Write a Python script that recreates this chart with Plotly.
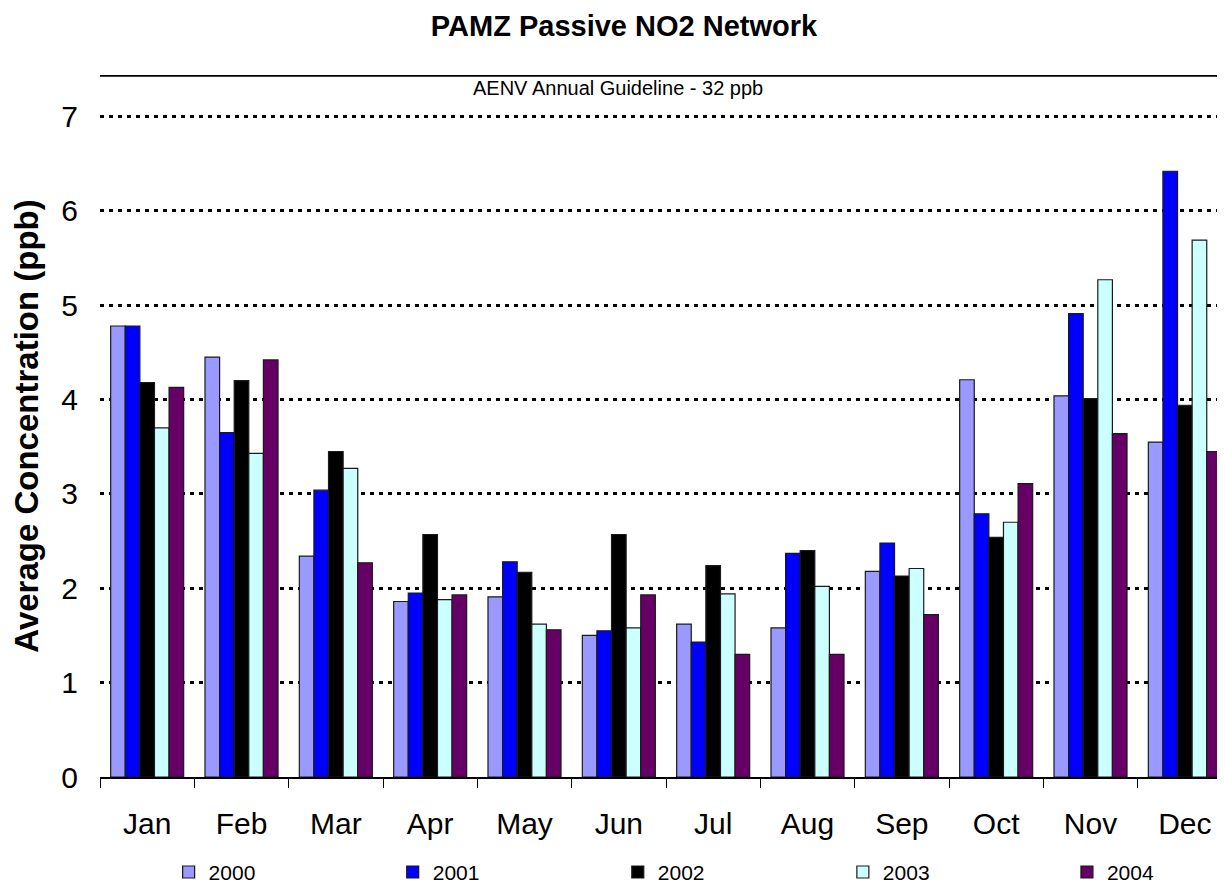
import plotly.graph_objects as go

months = ["Jan", "Feb", "Mar", "Apr", "May", "Jun", "Jul", "Aug", "Sep", "Oct", "Nov", "Dec"]
years = ["2000", "2001", "2002", "2003", "2004"]

v2000 = [4.78, 4.45, 2.34, 1.86, 1.91, 1.50, 1.62, 1.58, 2.18, 4.21, 4.04, 3.55]
v2001 = [4.78, 3.65, 3.04, 1.95, 2.28, 1.55, 1.43, 2.37, 2.48, 2.79, 4.91, 6.42]
v2002 = [4.18, 4.20, 3.45, 2.57, 2.17, 2.57, 2.24, 2.40, 2.13, 2.54, 4.01, 3.94]
v2003 = [3.70, 3.43, 3.27, 1.88, 1.62, 1.58, 1.94, 2.02, 2.21, 2.70, 5.27, 5.69]
v2004 = [4.13, 4.42, 2.27, 1.93, 1.56, 1.93, 1.30, 1.30, 1.72, 3.11, 3.64, 3.45]
series = [v2000, v2001, v2002, v2003, v2004]
colors = ["#9999FF", "#0000FF", "#000000", "#CCFFFF", "#660066"]

guideline_label = "AENV Annual Guideline - 32 ppb"
y_top = 7.44
y_ticks = [0, 1, 2, 3, 4, 5, 6, 7]

FONT = "Liberation Sans, Arial, sans-serif"

# the page body adds an 8px offset; figure sized to fit the 1225x888 window
OFF = 8
W, H = 1225 - OFF, 888 - OFF
ML = 100.4 - OFF
MT = 75 - OFF
MB = H - (776.7 - OFF)
PW = W - ML
PH = H - MT - MB

legend_ids = ["legend", "legend2", "legend3", "legend4", "legend5"]
legend_text_px = [210, 434, 659, 884, 1108]   # screen x where legend text starts

fig = go.Figure()
for name, vals, col, lid in zip(years, series, colors, legend_ids):
    fig.add_trace(go.Bar(
        x=months, y=vals, name=name, legend=lid,
        marker=dict(color=col, line=dict(color="#1a1a1a", width=1.2)),
    ))

layout = dict(
    width=W, height=H,
    margin=dict(l=ML, r=0, t=MT, b=MB, pad=0, autoexpand=False),
    paper_bgcolor="white", plot_bgcolor="white",
    barmode="group", bargap=0.226, bargroupgap=0,
    font=dict(family=FONT, color="black"),
    title=dict(text="<b>PAMZ Passive NO2 Network</b>", x=(624 - OFF) / W, xanchor="center",
               y=1 - (26 - OFF) / H, yanchor="middle",
               font=dict(size=29, family=FONT, color="black")),
    xaxis=dict(
        range=[-0.5, -0.5 + PW / 94.3], automargin=False,
        showline=True, linecolor="black", linewidth=1.5,
        ticks="outside", tickson="boundaries", ticklen=9, tickcolor="black", tickwidth=1,
        tickfont=dict(size=30, family=FONT, color="black"),
        ticklabelstandoff=19,
        showgrid=False, zeroline=False,
    ),
    yaxis=dict(
        range=[0, y_top], tickvals=y_ticks, automargin=False,
        showline=False, ticks="", zeroline=False,
        showgrid=True, gridcolor="black", gridwidth=2.5, griddash="4px,5px",
        tickfont=dict(size=30, family=FONT, color="black"),
        ticklabelstandoff=21,
        title=dict(text="<b>Average Concentration (ppb)</b>", standoff=12,
                   font=dict(size=33, family=FONT, color="black")),
    ),
    showlegend=True,
)
for lid, tx in zip(legend_ids, legend_text_px):
    lx = tx - OFF - 41
    layout[lid] = dict(
        orientation="h", x=(lx - ML) / PW, xanchor="left",
        y=-((872 - OFF) - (H - MB)) / PH, yanchor="middle",
        font=dict(size=21, family=FONT, color="black"),
        bgcolor="rgba(0,0,0,0)", borderwidth=0,
    )
fig.update_layout(**layout)

# Guideline line drawn along the top of the plotting area
fig.add_shape(type="line", xref="paper", yref="y", x0=0.0, x1=1.0, y0=y_top, y1=y_top,
              line=dict(color="black", width=3.5), layer="above")
fig.add_annotation(text=guideline_label, xref="paper", yref="y",
                   x=(618 - OFF - ML) / PW, y=y_top, yshift=-13, showarrow=False,
                   xanchor="center", yanchor="middle",
                   font=dict(size=20, family=FONT, color="black"))

fig.write_html("out.html")
